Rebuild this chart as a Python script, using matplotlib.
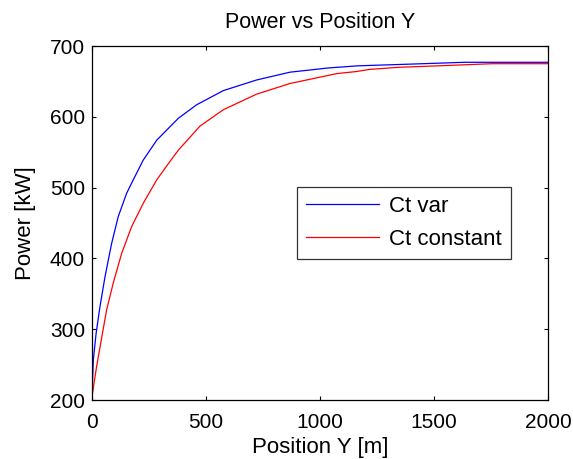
import matplotlib
matplotlib.use("Agg")
import matplotlib.pyplot as plt

plt.rcParams['font.family'] = ['Liberation Sans', 'DejaVu Sans']

# Data
x_var = [0, 2, 6, 18, 35, 57, 86, 115, 152, 181, 225, 284, 379, 459, 576, 722, 868, 1037, 1167, 1358, 1636, 2000]
p_var = [205, 225, 257, 294, 332, 374, 421, 459, 492, 511, 539, 567, 598, 617, 637, 652, 663, 669, 672, 674, 677, 677]

x_const = [0, 20, 43, 64, 93, 130, 174, 225, 284, 342, 379, 474, 576, 722, 868, 1000, 1073, 1161, 1219, 1351, 1520, 1754, 2000]
p_const = [205, 247, 289, 327, 365, 407, 445, 478, 511, 537, 553, 587, 610, 632, 647, 656, 661, 664, 667, 670, 672, 675, 675]

series_labels = ["Ct var", "Ct constant"]
title = "Power vs Position Y"
xlabel = "Position Y [m]"
ylabel = "Power [kW]"
xticks = [0, 500, 1000, 1500, 2000]
yticks = [200, 300, 400, 500, 600, 700]

fig = plt.figure(figsize=(5.73, 4.59), dpi=100)
ax = fig.add_axes([92/573, 1 - 400/459, 456/573, 354/459])

ax.plot(x_var, p_var, color='#0000ff', lw=0.9, label=series_labels[0])
ax.plot(x_const, p_const, color='#ff0000', lw=0.9, label=series_labels[1])

ax.set_xlim(0, 2000)
ax.set_ylim(200, 700)
ax.set_xticks(xticks)
ax.set_yticks(yticks)
ax.tick_params(direction='in', top=True, right=True, labelsize=15, length=3, width=0.8)
ax.tick_params(axis='x', pad=9)
ax.tick_params(axis='y', pad=5)
for s in ax.spines.values():
    s.set_linewidth(0.9)

ax.set_title(title, fontsize=15.5, pad=13)
ax.set_xlabel(xlabel, fontsize=16, labelpad=4)
ax.set_ylabel(ylabel, fontsize=16, labelpad=10)

leg = ax.legend(loc='upper left', bbox_to_anchor=(0.45, 0.602), fontsize=16,
                frameon=True, fancybox=False, shadow=False, edgecolor='black',
                handlelength=3.3, handletextpad=0.45, labelspacing=0.56,
                borderpad=0.4, borderaxespad=0)
leg.get_frame().set_linewidth(0.9)

fig.savefig("out.png", dpi=100)
